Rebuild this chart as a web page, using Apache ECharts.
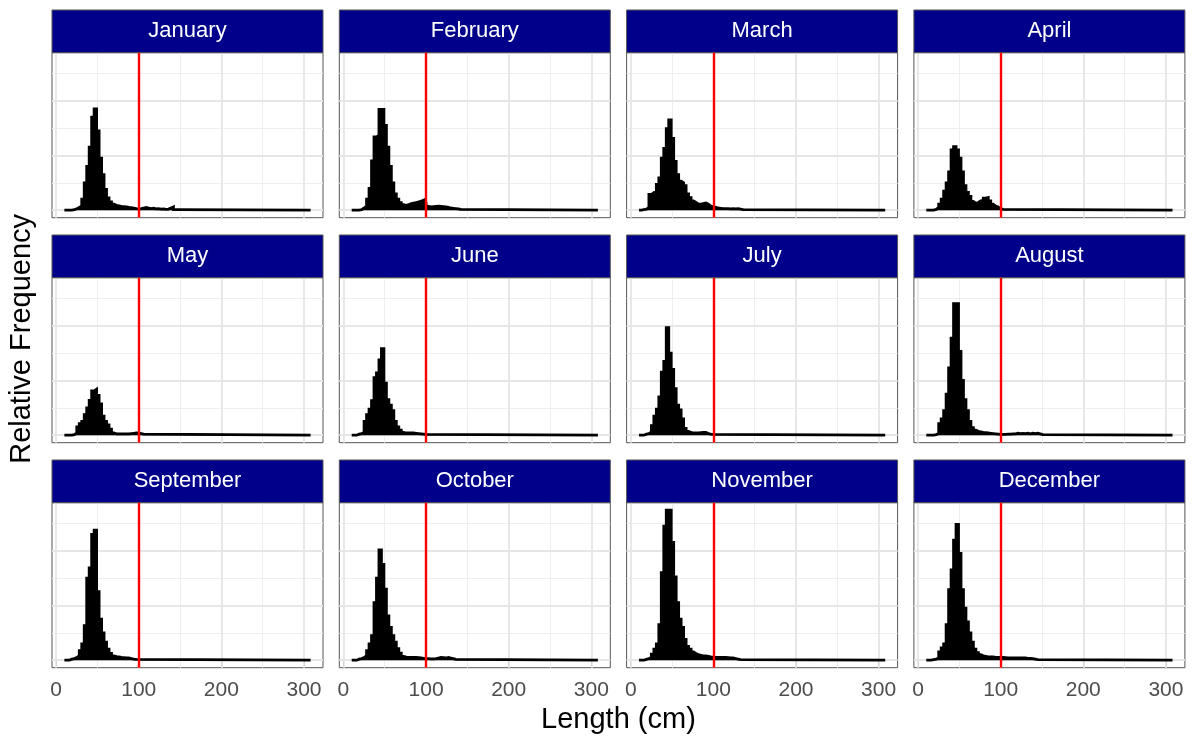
<!DOCTYPE html>
<html>
<head>
<meta charset="utf-8">
<script src="https://cdn.jsdelivr.net/npm/echarts@6/dist/echarts.min.js"></script>
<style>
  html, body { margin: 0; padding: 0; background: #fff; }
  #main { width: 1194px; height: 740px; }
</style>
</head>
<body>
<div id="main"></div>
<script>
// histogram bins: 3 cm wide, first bin starts at 10 cm, data reach 308 cm
var binStart = 10;
var binWidth = 3;
var lengthMax = 308;
var refLength = 100;

var months = ['January', 'February', 'March', 'April', 'May', 'June',
              'July', 'August', 'September', 'October', 'November', 'December'];
var xTicks = [0, 100, 200, 300];
var xMinorGrid = [50, 150, 250];
var yMajorGrid = [0, 2, 4];
var yMinorGrid = [1, 3, 5];

// relative frequency per bin (bins after the last value are empty)
var jan = [0, 0, 0, 0.02, 0.05, 0.1, 0.15, 0.4, 1.0, 1.6, 2.3, 3.4, 3.7, 2.9, 1.9, 1.3, 0.76, 0.45, 0.3, 0.22, 0.18, 0.16, 0.14, 0.13, 0.12, 0.1, 0.09, 0.08, 0.06, 0.05, 0.06, 0.08, 0.1, 0.08, 0.06, 0.07, 0.05, 0.06, 0.04, 0.05, 0.03, 0.04, 0.08, 0.12, 0.02];
var feb = [0, 0, 0, 0.02, 0.08, 0.15, 0.4, 0.8, 1.8, 2.68, 2.74, 3.68, 3.68, 3.1, 2.3, 1.6, 1.0, 0.6, 0.4, 0.28, 0.2, 0.18, 0.2, 0.24, 0.26, 0.28, 0.3, 0.33, 0.37, 0.25, 0.14, 0.12, 0.13, 0.14, 0.15, 0.14, 0.13, 0.12, 0.1, 0.08, 0.07, 0.06, 0.05, 0.03];
var mar = [0, 0.02, 0.04, 0.1, 0.58, 0.64, 0.7, 0.94, 1.18, 1.9, 2.26, 2.98, 3.3, 2.62, 1.78, 1.3, 1.06, 1.0, 0.9, 0.6, 0.46, 0.34, 0.28, 0.22, 0.22, 0.24, 0.26, 0.22, 0.15, 0.12, 0.1, 0.08, 0.07, 0.06, 0.06, 0.06, 0.05, 0.06, 0.05, 0.06, 0.04, 0.02];
var apr = [0, 0, 0, 0.03, 0.1, 0.22, 0.4, 0.7, 1.0, 1.4, 2.2, 2.32, 2.2, 1.9, 1.4, 0.9, 0.65, 0.5, 0.32, 0.25, 0.28, 0.34, 0.36, 0.44, 0.46, 0.34, 0.22, 0.15, 0.12, 0.06, 0.03];
var may = [0, 0, 0, 0.02, 0.08, 0.3, 0.42, 0.5, 0.75, 1.0, 1.27, 1.62, 1.68, 1.45, 1.14, 0.7, 0.5, 0.38, 0.22, 0.08, 0.05, 0.05, 0.05, 0.05, 0.05, 0.05, 0.06, 0.07, 0.08, 0.08, 0.06, 0.04];
var jun = [0, 0, 0.04, 0.06, 0.1, 0.5, 0.75, 0.95, 1.26, 2.1, 2.28, 2.75, 3.16, 1.9, 1.3, 1.1, 0.9, 0.5, 0.3, 0.18, 0.1, 0.08, 0.08, 0.08, 0.08, 0.07, 0.06, 0.05, 0.04, 0.03];
var jul = [0, 0, 0.04, 0.06, 0.12, 0.35, 0.7, 0.95, 1.4, 2.3, 2.7, 3.93, 3.0, 2.4, 1.7, 1.1, 0.92, 0.6, 0.25, 0.14, 0.1, 0.08, 0.08, 0.08, 0.09, 0.1, 0.1, 0.06, 0.04, 0.03];
var aug = [0, 0, 0, 0.02, 0.06, 0.42, 0.6, 0.9, 1.5, 2.46, 3.55, 4.81, 4.81, 3.06, 2.0, 1.3, 0.9, 0.5, 0.28, 0.18, 0.14, 0.12, 0.1, 0.09, 0.08, 0.07, 0.06, 0.05, 0.04, 0.03, 0.03, 0.03, 0.04, 0.04, 0.05, 0.05, 0.07, 0.06, 0.07, 0.06, 0.07, 0.05, 0.07, 0.06, 0.07, 0.05, 0.02];
var sep = [0, 0, 0.04, 0.06, 0.1, 0.16, 0.35, 0.6, 1.26, 3.0, 3.37, 4.6, 4.75, 2.5, 1.5, 1.0, 0.66, 0.4, 0.25, 0.16, 0.13, 0.12, 0.1, 0.09, 0.08, 0.08, 0.06, 0.04, 0.03];
var oct = [0, 0, 0.04, 0.06, 0.1, 0.16, 0.35, 0.6, 0.9, 2.1, 3.0, 4.03, 3.5, 2.6, 1.62, 1.2, 0.9, 0.66, 0.42, 0.26, 0.14, 0.11, 0.1, 0.1, 0.1, 0.1, 0.09, 0.08, 0.07, 0.06, 0.06, 0.05, 0.05, 0.06, 0.08, 0.1, 0.09, 0.08, 0.1, 0.08, 0.06, 0.03];
var nov = [0, 0, 0.03, 0.06, 0.1, 0.22, 0.4, 0.6, 1.3, 3.2, 4.9, 5.48, 5.48, 4.3, 3.04, 2.1, 1.5, 1.2, 0.76, 0.5, 0.4, 0.3, 0.24, 0.2, 0.18, 0.16, 0.16, 0.14, 0.12, 0.11, 0.1, 0.1, 0.1, 0.1, 0.1, 0.09, 0.08, 0.08, 0.06, 0.04, 0.02];
var dec = [0, 0, 0.02, 0.04, 0.08, 0.3, 0.45, 0.6, 1.3, 2.58, 3.3, 4.39, 4.96, 3.9, 2.58, 1.9, 1.4, 1.0, 0.66, 0.4, 0.28, 0.2, 0.16, 0.14, 0.12, 0.12, 0.12, 0.1, 0.1, 0.1, 0.1, 0.09, 0.08, 0.08, 0.08, 0.08, 0.08, 0.08, 0.08, 0.08, 0.07, 0.07, 0.06, 0.04, 0.02];

var monthValues = [jan, feb, mar, apr, may, jun, jul, aug, sep, oct, nov, dec];

// facet layout (px)
var panelLeft = 52, panelPitchX = 287.3;
var panelTop = 52.7, panelPitchY = 225;
var panelW = 271, panelH = 165, stripH = 42.7;
var fontFamily = '"Liberation Sans", Arial, sans-serif';

// shared y scale with ggplot style 5% expansion
var yTop = 0;
monthValues.forEach(function (v) { yTop = Math.max(yTop, Math.max.apply(null, v)); });

function histPoints(values) {
    var pts = [];
    for (var k = 0; k < values.length; k++) {
        pts.push([binStart + k * binWidth, values[k]]);
    }
    pts.push([binStart + values.length * binWidth, 0]);
    pts.push([lengthMax, 0]);
    return pts;
}

function gridLines(list, axis, width, color) {
    return list.map(function (v) {
        var d = {lineStyle: {width: width, color: color, type: 'solid'}};
        d[axis] = v;
        return d;
    });
}

var option = {
    animation: false,
    backgroundColor: '#ffffff',
    grid: [], xAxis: [], yAxis: [], series: [], graphic: []
};

months.forEach(function (name, i) {
    var col = i % 4, row = Math.floor(i / 4);
    var left = panelLeft + col * panelPitchX;
    var top = panelTop + row * panelPitchY;
    var bottomRow = row === 2;

    option.grid.push({
        left: left, top: top, width: panelW, height: panelH,
        show: true, backgroundColor: '#fff', borderColor: '#555', borderWidth: 1
    });
    option.xAxis.push({
        gridIndex: i, type: 'value', min: -5, max: 323,
        axisLine: {show: false},
        splitLine: {show: false},
        axisTick: {show: bottomRow, customValues: xTicks, length: 6, lineStyle: {color: '#333', width: 1}},
        axisLabel: {show: bottomRow, customValues: xTicks, margin: 12, color: '#4d4d4d',
                    fontSize: 21, fontFamily: fontFamily}
    });
    option.yAxis.push({
        gridIndex: i, type: 'value', min: -0.05 * yTop, max: 1.05 * yTop,
        axisLine: {show: false}, axisTick: {show: false}, axisLabel: {show: false},
        splitLine: {show: false}
    });

    // panel grid lines, kept under the bars
    option.series.push({
        type: 'line', xAxisIndex: i, yAxisIndex: i, data: [], z: 1, silent: true,
        markLine: {
            z: 1, silent: true, symbol: ['none', 'none'], label: {show: false}, animation: false,
            data: [].concat(
                gridLines(xMinorGrid, 'xAxis', 1, '#eeeeee'),
                gridLines(yMinorGrid, 'yAxis', 1, '#eeeeee'),
                gridLines(xTicks, 'xAxis', 1.8, '#e6e6e6'),
                gridLines(yMajorGrid, 'yAxis', 1.8, '#e6e6e6')
            )
        }
    });
    // histogram
    option.series.push({
        name: name, type: 'line', xAxisIndex: i, yAxisIndex: i, z: 10,
        step: 'end', showSymbol: false, symbol: 'none',
        lineStyle: {color: '#000', width: 2.8, join: 'miter'},
        areaStyle: {color: '#000', opacity: 1},
        data: histPoints(monthValues[i]),
        markLine: {
            z: 20, silent: true, symbol: ['none', 'none'], label: {show: false}, animation: false,
            lineStyle: {color: '#ff0000', width: 2.4, type: 'solid'},
            data: [{xAxis: refLength}]
        }
    });

    // strip header
    option.graphic.push({
        type: 'rect', z: 10,
        shape: {x: left, y: top - stripH, width: panelW, height: stripH},
        style: {fill: '#00008B', stroke: '#555', lineWidth: 1}
    });
    option.graphic.push({
        type: 'text', z: 11, x: left + panelW / 2, y: top - stripH / 2,
        style: {text: name, fill: '#ffffff', fontSize: 22, fontFamily: fontFamily,
                align: 'center', verticalAlign: 'middle'}
    });
});

// axis titles
option.graphic.push({
    type: 'text', x: panelLeft + (3 * panelPitchX + panelW) / 2, y: 720,
    style: {text: 'Length (cm)', fill: '#000', fontSize: 29, fontFamily: fontFamily,
            align: 'center', verticalAlign: 'middle'}
});
option.graphic.push({
    type: 'text', x: 22, y: (panelTop - stripH + panelTop + 2 * panelPitchY + panelH) / 2,
    rotation: Math.PI / 2,
    style: {text: 'Relative Frequency', fill: '#000', fontSize: 29, fontFamily: fontFamily,
            align: 'center', verticalAlign: 'middle'}
});

var chart = echarts.init(document.getElementById('main'), null, {renderer: 'canvas'});
chart.setOption(option);
</script>
</body>
</html>
